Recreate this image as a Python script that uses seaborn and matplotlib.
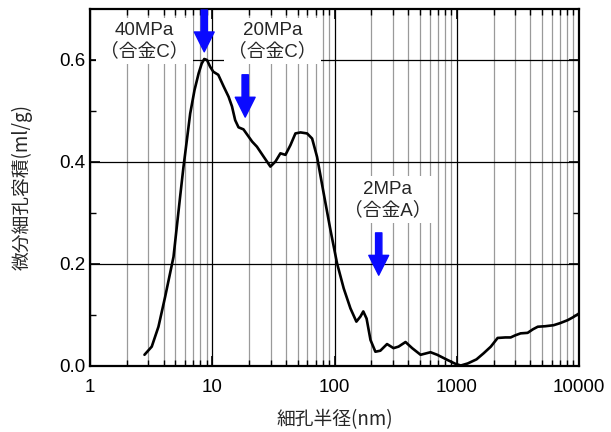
import matplotlib
matplotlib.use("Agg")
import matplotlib.pyplot as plt
import matplotlib.ticker as mticker
import seaborn as sns
import pandas as pd

radius_nm = [2.79, 3.2, 3.63, 4.12, 4.52, 4.82, 5.13, 5.46, 5.82, 6.2, 6.6, 7.16, 7.74, 8.2,
             8.6, 9.06, 9.6, 10.2, 11.2, 12.4, 13.6, 14.5, 15.4, 16.4, 18.0, 21.2, 23.2,
             26.4, 29.9, 32.9, 36.1, 39.7, 43.6, 47.9, 52.7, 59.7, 65.6, 72.0, 81.5, 92.6,
             105, 119, 135, 151, 163, 172, 183, 197, 216, 237, 269, 304, 334, 381, 432,
             506, 610, 692, 837, 981, 1080, 1230, 1450, 1660, 1900, 2160, 2500, 2760,
             3000, 3330, 3800, 4200, 4600, 5300, 6200, 7000, 8100, 9000, 10000]
volume = [0.022, 0.038, 0.077, 0.136, 0.182, 0.214, 0.273, 0.332, 0.391, 0.443, 0.495,
          0.541, 0.574, 0.593, 0.602, 0.6, 0.587, 0.577, 0.571, 0.548, 0.528, 0.509, 0.482,
          0.468, 0.464, 0.44, 0.43, 0.41, 0.391, 0.401, 0.417, 0.414, 0.433, 0.456, 0.458,
          0.456, 0.446, 0.41, 0.339, 0.267, 0.201, 0.152, 0.113, 0.087, 0.097, 0.107, 0.093,
          0.051, 0.028, 0.03, 0.043, 0.035, 0.038, 0.047, 0.035, 0.022, 0.027, 0.022, 0.012,
          0.004, 0.001, 0.005, 0.013, 0.025, 0.038, 0.055, 0.056, 0.056, 0.06, 0.064, 0.065,
          0.072, 0.077, 0.078, 0.08, 0.084, 0.09, 0.096, 0.103]

labels = ["40MPa\n（合金C）", "20MPa\n（合金C）", "2MPa\n（合金A）"]
label_x = [2.8, 31, 272]
label_y = [0.637, 0.637, 0.326]
arrow_x = [8.6, 18.6, 230]
arrow_top = [0.698, 0.571, 0.261]
arrow_tip = [0.616, 0.488, 0.178]

xlabel = "細孔半径(nm)"
ylabel = "微分細孔容積(ml/g)"

sns.set_theme(style="ticks")
plt.rcParams["font.family"] = ["Liberation Sans", "Noto Sans CJK JP", "DejaVu Sans"]
mixed = ["Liberation Sans", "Noto Sans CJK JP", "DejaVu Sans"]
jp = ["Noto Sans CJK JP", "DejaVu Sans"]

df = pd.DataFrame({"r": radius_nm, "v": volume})

fig = plt.figure(figsize=(6.11, 4.32), dpi=100)
ax = fig.add_axes([90/611, 66/432, 489/611, 357/432])

sns.lineplot(data=df, x="r", y="v", ax=ax, color="black", linewidth=1.9,
             sort=False, estimator=None, zorder=3)

ax.set_xscale("log")
ax.set_xlim(1, 10000)
ax.set_ylim(0, 0.7)
ax.xaxis.set_major_locator(mticker.LogLocator(base=10, numticks=10))
ax.xaxis.set_minor_locator(mticker.LogLocator(base=10, subs=range(2, 10), numticks=20))
ax.xaxis.set_major_formatter(mticker.FuncFormatter(lambda v, p: f"{v:g}"))
ax.xaxis.set_minor_formatter(mticker.NullFormatter())
ax.yaxis.set_major_locator(mticker.FixedLocator([0.0, 0.2, 0.4, 0.6]))
ax.yaxis.set_minor_locator(mticker.FixedLocator([0.1, 0.3, 0.5]))
ax.yaxis.set_major_formatter(mticker.FormatStrFormatter("%.1f"))

ax.grid(True, which="major", axis="both", color="black", linewidth=0.9, zorder=1)
ax.grid(True, which="minor", axis="x", color="#9a9a9a", linewidth=0.9, zorder=1)
ax.set_axisbelow(True)

for s in ax.spines.values():
    s.set_visible(True)
    s.set_color("black")
    s.set_linewidth(1.6)

ax.tick_params(which="both", direction="in", top=True, right=True, colors="black",
               labelsize=13.5)
ax.tick_params(which="major", length=7, width=1.2)
ax.tick_params(which="minor", length=4, width=1.0)
ax.tick_params(axis="x", pad=9)

ax.set_xlabel(xlabel, fontsize=13.5, family=jp, labelpad=10)
ax.set_ylabel(ylabel, fontsize=13.5, family=jp, labelpad=19)

for t, xx, yy in zip(labels, label_x, label_y):
    ax.text(xx, yy, t, ha="center", va="center", fontsize=13.5, family=mixed,
            linespacing=1.25, zorder=4,
            bbox=dict(facecolor="white", edgecolor="none", pad=3))

for xx, yt, yb in zip(arrow_x, arrow_top, arrow_tip):
    ax.annotate("", xy=(xx, yb), xytext=(xx, yt), zorder=5, annotation_clip=False,
                arrowprops=dict(arrowstyle="simple,head_width=1.1,head_length=1.1,tail_width=0.35",
                                color="#0a0aff", shrinkA=0, shrinkB=0, mutation_scale=13))

fig.savefig("out.png", dpi=100)
